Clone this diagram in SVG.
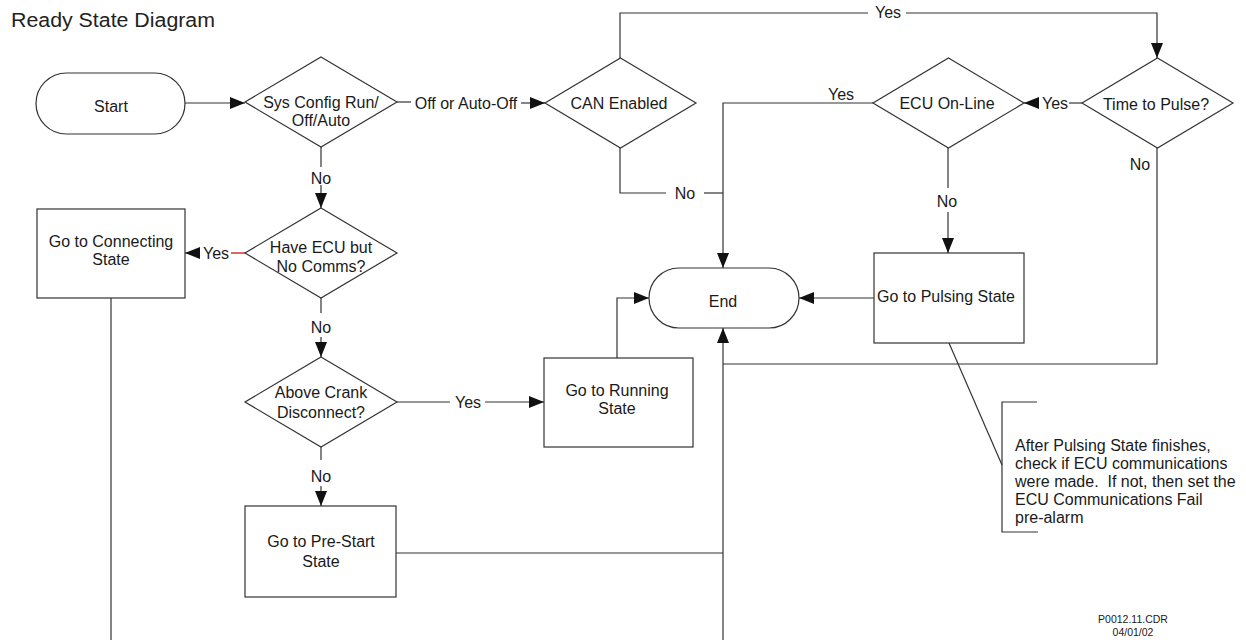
<svg xmlns="http://www.w3.org/2000/svg" width="1246" height="640" viewBox="0 0 1246 640">
<defs>
<style>
.n{fill:#fff;stroke:#333;stroke-width:1.2}
.c{fill:none;stroke:#333;stroke-width:1.2}
.a{marker-end:url(#ah)}
text{font-family:"Liberation Sans",Arial,sans-serif;font-size:16px;fill:#1a1a1a}
.m{text-anchor:middle}
</style>
<marker id="ah" viewBox="0 0 15 12" refX="15" refY="6" markerWidth="15" markerHeight="12" markerUnits="userSpaceOnUse" orient="auto">
<path d="M0,0 L15,6 L0,12 z" fill="#111"/>
</marker>
</defs>
<rect width="1246" height="640" fill="#fff"/>
<text x="11" y="27" style="font-size:20px;fill:#222" textLength="204" lengthAdjust="spacingAndGlyphs">Ready State Diagram</text>

<g id="connectors">
<path class="c a" d="M185,103 H245"/>
<path class="c" d="M397,102 H411"/>
<text class="m" x="466" y="109">Off or Auto-Off</text>
<path class="c a" d="M521,103 H545"/>
<path class="c" d="M620,58 V13 H868"/>
<text class="m" x="888" y="18">Yes</text>
<path class="c a" d="M906,13 H1157 V58"/>
<path class="c" d="M1082,103 H1069"/>
<text class="m" x="1055" y="109">Yes</text>
<path class="c a" d="M1039,103 H1024"/>
<path class="c a" d="M873,103 H723 V268"/>
<text class="m" x="841" y="100">Yes</text>
<path class="c" d="M620,148 V193 H666"/>
<text class="m" x="685" y="199">No</text>
<path class="c" d="M704,193 H723"/>
<path class="c" d="M948,148 V188"/>
<text class="m" x="947" y="207">No</text>
<path class="c a" d="M948,212 V253"/>
<path class="c a" d="M874,298 H799"/>
<path class="c" d="M1157,148 V364 H723"/>
<text class="m" x="1140" y="170">No</text>
<path class="c a" d="M723,640 V328"/>
<path class="c a" d="M617,358 V298 H649"/>
<path class="c" d="M321,147 V167"/>
<text class="m" x="321" y="184">No</text>
<path class="c a" d="M321,185 V208"/>
<path fill="none" stroke="#c00" stroke-width="1.2" d="M245,253 H231"/>
<text class="m" x="216" y="259">Yes</text>
<path class="c a" d="M200,253 H185"/>
<path class="c" d="M321,298 V313"/>
<text class="m" x="321" y="333">No</text>
<path class="c a" d="M321,337 V357"/>
<path class="c" d="M397,402 H450"/>
<text class="m" x="468" y="408">Yes</text>
<path class="c a" d="M485,402 H544"/>
<path class="c" d="M321,447 V460"/>
<text class="m" x="321" y="482">No</text>
<path class="c a" d="M321,486 V506"/>
<path class="c" d="M396,553 H723"/>
<path class="c" d="M111,298 V640"/>
<path class="c" d="M949,343 L1002,465"/>
</g>

<g id="start">
<rect class="n" x="36" y="73" width="149" height="61" rx="30.5"/>
<text class="m" x="111" y="112">Start</text>
</g>
<g id="sys-config">
<polygon class="n" points="321,57 397,102 321,147 245,102"/>
<text class="m" x="321" y="108">Sys Config Run/</text>
<text class="m" x="321" y="126">Off/Auto</text>
</g>
<g id="can-enabled">
<polygon class="n" points="620.5,58 696,103 620.5,148 545,103"/>
<text class="m" x="619" y="109">CAN Enabled</text>
</g>
<g id="ecu-online">
<polygon class="n" points="948.5,58 1024,103 948.5,148 873,103"/>
<text class="m" x="947" y="109">ECU On-Line</text>
</g>
<g id="time-to-pulse">
<polygon class="n" points="1157.5,58 1233,103 1157.5,148 1082,103"/>
<text class="m" x="1156" y="110">Time to Pulse?</text>
</g>
<g id="connecting">
<rect class="n" x="37" y="209" width="148" height="89"/>
<text class="m" x="111" y="247">Go to Connecting</text>
<text class="m" x="111" y="265">State</text>
</g>
<g id="have-ecu">
<polygon class="n" points="321,208 397,253 321,298 245,253"/>
<text class="m" x="321" y="253">Have ECU but</text>
<text class="m" x="321" y="272">No Comms?</text>
</g>
<g id="end">
<rect class="n" x="649" y="268" width="150" height="60" rx="30"/>
<text class="m" x="723" y="307">End</text>
</g>
<g id="pulsing">
<rect class="n" x="874" y="253" width="150" height="90"/>
<text class="m" x="946" y="302">Go to Pulsing State</text>
</g>
<g id="above-crank">
<polygon class="n" points="321,357 397,402 321,447 245,402"/>
<text class="m" x="321" y="398">Above Crank</text>
<text class="m" x="321" y="418">Disconnect?</text>
</g>
<g id="running">
<rect class="n" x="544" y="358" width="149" height="89"/>
<text class="m" x="617" y="396">Go to Running</text>
<text class="m" x="617" y="414">State</text>
</g>
<g id="prestart">
<rect class="n" x="245" y="506" width="151" height="91"/>
<text class="m" x="321" y="547">Go to Pre-Start</text>
<text class="m" x="321" y="567">State</text>
</g>
<g id="note">
<path class="c" d="M1037,402 H1002 V532 H1038"/>
<text x="1015" y="451">After Pulsing State finishes,</text>
<text x="1015" y="469">check if ECU communications</text>
<text x="1015" y="487">were made.&#160; If not, then set the</text>
<text x="1015" y="505">ECU Communications Fail</text>
<text x="1015" y="523">pre-alarm</text>
</g>
<g id="footer">
<text class="m" x="1133" y="623" style="font-size:10.5px">P0012.11.CDR</text>
<text class="m" x="1133" y="636" style="font-size:10.5px">04/01/02</text>
</g>
</svg>
